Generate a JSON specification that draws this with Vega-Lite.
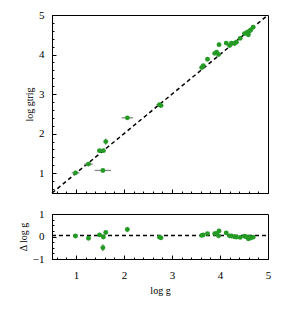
{
  "$schema": "https://vega.github.io/schema/vega-lite/v6.json",
  "background": "white",
  "padding": {"left": 17, "top": 8, "right": 5, "bottom": 5},
  "spacing": 10,
  "config": {
    "view": {"stroke": "black", "strokeWidth": 1},
    "axis": {
      "domainColor": "black", "tickColor": "black", "labelColor": "black", "titleColor": "black",
      "labelFont": "Liberation Serif", "labelFontSize": 11, "titleFont": "Liberation Serif",
      "titleFontSize": 10, "titleFontWeight": "normal", "grid": false,
      "labelFlush": false, "labelOverlap": false, "tickWidth": 1, "labelPadding": 12, "titlePadding": 4
    },
    "axisX": {"labelPadding": 14, "titlePadding": 3}
  },
  "datasets": {
    "pts": [
      {"x": 0.99, "y": 1.01, "xerr": 0.08, "yerr": 0.03, "d": 0.02, "derr": 0.04},
      {"x": 1.26, "y": 1.23, "xerr": 0.09, "yerr": 0.04, "d": -0.08, "derr": 0.05},
      {"x": 1.49, "y": 1.57, "xerr": 0.05, "yerr": 0.03, "d": 0.07, "derr": 0.04},
      {"x": 1.57, "y": 1.57, "xerr": 0.05, "yerr": 0.03, "d": -0.02, "derr": 0.04},
      {"x": 1.62, "y": 1.80, "xerr": 0.03, "yerr": 0.08, "d": 0.18, "derr": 0.06},
      {"x": 1.56, "y": 1.07, "xerr": 0.17, "yerr": 0.03, "d": -0.50, "derr": 0.16},
      {"x": 2.07, "y": 2.40, "xerr": 0.12, "yerr": 0.03, "d": 0.31, "derr": 0.12},
      {"x": 2.74, "y": 2.73, "xerr": 0.07, "yerr": 0.03, "d": -0.03, "derr": 0.04},
      {"x": 2.77, "y": 2.71, "xerr": 0.05, "yerr": 0.03, "d": -0.06, "derr": 0.04},
      {"x": 3.62, "y": 3.67, "xerr": 0.05, "yerr": 0.03, "d": 0.05, "derr": 0.04},
      {"x": 3.65, "y": 3.72, "xerr": 0.05, "yerr": 0.03, "d": 0.07, "derr": 0.04},
      {"x": 3.74, "y": 3.88, "xerr": 0.03, "yerr": 0.03, "d": 0.13, "derr": 0.04},
      {"x": 3.89, "y": 4.03, "xerr": 0.03, "yerr": 0.03, "d": 0.13, "derr": 0.04},
      {"x": 3.93, "y": 4.06, "xerr": 0.03, "yerr": 0.03, "d": 0.14, "derr": 0.04},
      {"x": 3.97, "y": 4.00, "xerr": 0.03, "yerr": 0.03, "d": 0.03, "derr": 0.04},
      {"x": 3.98, "y": 4.25, "xerr": 0.03, "yerr": 0.03, "d": 0.25, "derr": 0.05},
      {"x": 4.13, "y": 4.29, "xerr": 0.04, "yerr": 0.03, "d": 0.16, "derr": 0.04},
      {"x": 4.20, "y": 4.23, "xerr": 0.04, "yerr": 0.03, "d": 0.03, "derr": 0.04},
      {"x": 4.24, "y": 4.29, "xerr": 0.04, "yerr": 0.03, "d": 0.02, "derr": 0.04},
      {"x": 4.30, "y": 4.28, "xerr": 0.04, "yerr": 0.03, "d": -0.01, "derr": 0.04},
      {"x": 4.34, "y": 4.31, "xerr": 0.04, "yerr": 0.03, "d": -0.02, "derr": 0.04},
      {"x": 4.42, "y": 4.41, "xerr": 0.04, "yerr": 0.03, "d": -0.04, "derr": 0.04},
      {"x": 4.51, "y": 4.53, "xerr": 0.04, "yerr": 0.03, "d": 0.01, "derr": 0.04},
      {"x": 4.56, "y": 4.56, "xerr": 0.04, "yerr": 0.03, "d": -0.02, "derr": 0.04},
      {"x": 4.59, "y": 4.50, "xerr": 0.04, "yerr": 0.03, "d": -0.10, "derr": 0.04},
      {"x": 4.61, "y": 4.59, "xerr": 0.04, "yerr": 0.03, "d": -0.04, "derr": 0.04},
      {"x": 4.64, "y": 4.62, "xerr": 0.04, "yerr": 0.03, "d": -0.07, "derr": 0.04},
      {"x": 4.69, "y": 4.69, "xerr": 0.04, "yerr": 0.03, "d": -0.03, "derr": 0.04}
    ]
  },
  "vconcat": [
    {
      "width": 216, "height": 178,
      "encoding": {
        "x": {"field": "x", "type": "quantitative",
          "scale": {"domain": [0.5, 5], "nice": false, "zero": false},
          "axis": {"title": null, "labels": false,
            "values": [0.6,0.8,1,1.2,1.4,1.6,1.8,2,2.2,2.4,2.6,2.8,3,3.2,3.4,3.6,3.8,4,4.2,4.4,4.6,4.8,5],
            "tickSize": {"condition": {"test": "datum.value % 1 == 0", "value": -4}, "value": -2}}},
        "y": {"field": "y", "type": "quantitative",
          "scale": {"domain": [0.5, 5], "nice": false, "zero": false},
          "axis": {"title": "log gtrig",
            "values": [0.6,0.8,1,1.2,1.4,1.6,1.8,2,2.2,2.4,2.6,2.8,3,3.2,3.4,3.6,3.8,4,4.2,4.4,4.6,4.8,5],
            "labelExpr": "datum.value % 1 == 0 ? format(datum.value, 'd') : ''",
            "tickSize": {"condition": {"test": "datum.value % 1 == 0", "value": -4}, "value": -2}}}
      },
      "layer": [
        {"data": {"values": [{"x": 0.5, "y": 0.5}, {"x": 5, "y": 5}]},
         "mark": {"type": "line", "color": "black", "strokeWidth": 1.5, "strokeDash": [4, 3]}},
        {"data": {"name": "pts"},
         "mark": {"type": "errorbar", "color": "#888888", "thickness": 1.3},
         "encoding": {"xError": {"field": "xerr"}}},
        {"data": {"name": "pts"},
         "mark": {"type": "errorbar", "color": "#888888", "thickness": 1.3},
         "encoding": {"yError": {"field": "yerr"}}},
        {"data": {"name": "pts"},
         "mark": {"type": "circle", "color": "#259b25", "opacity": 1, "size": 24}}
      ]
    },
    {
      "width": 216, "height": 45,
      "encoding": {
        "x": {"field": "x", "type": "quantitative",
          "scale": {"domain": [0.5, 5], "nice": false, "zero": false},
          "axis": {"title": "log g",
            "values": [0.6,0.8,1,1.2,1.4,1.6,1.8,2,2.2,2.4,2.6,2.8,3,3.2,3.4,3.6,3.8,4,4.2,4.4,4.6,4.8,5],
            "labelExpr": "datum.value % 1 == 0 ? format(datum.value, 'd') : ''",
            "tickSize": {"condition": {"test": "datum.value % 1 == 0", "value": -4}, "value": -2}}},
        "y": {"field": "d", "type": "quantitative",
          "scale": {"domain": [-1, 1], "nice": false, "zero": false},
          "axis": {"title": "Δ log g",
            "values": [-1,-0.75,-0.5,-0.25,0,0.25,0.5,0.75,1],
            "labelExpr": "datum.value % 1 == 0 ? format(datum.value, 'd') : ''",
            "tickSize": {"condition": {"test": "datum.value % 1 == 0", "value": -4}, "value": -2}}}
      },
      "layer": [
        {"data": {"values": [{"x": 0.5, "d": 0.05}, {"x": 5, "d": 0.05}]},
         "mark": {"type": "line", "color": "black", "strokeWidth": 1.5, "strokeDash": [4, 3]}},
        {"data": {"name": "pts"},
         "mark": {"type": "errorbar", "color": "#888888", "thickness": 1.3},
         "encoding": {"yError": {"field": "derr"}}},
        {"data": {"name": "pts"},
         "mark": {"type": "circle", "color": "#259b25", "opacity": 1, "size": 24}}
      ]
    }
  ]
}
